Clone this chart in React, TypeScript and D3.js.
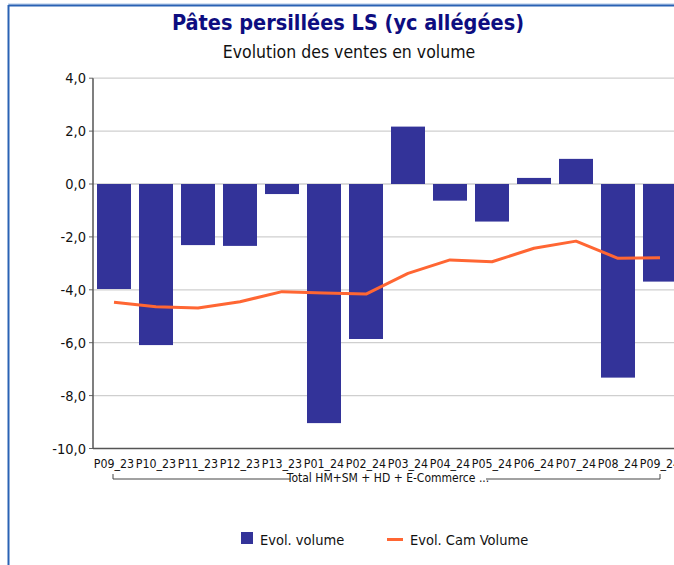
import React from "react";
import * as d3 from "d3";

const categories = ["P09_23","P10_23","P11_23","P12_23","P13_23","P01_24","P02_24","P03_24","P04_24","P05_24","P06_24","P07_24","P08_24","P09_24"];
const evolVolume = [-3.97,-6.09,-2.31,-2.34,-0.38,-9.04,-5.86,2.17,-0.63,-1.42,0.23,0.95,-7.32,-3.69];
const evolCamVolume = [-4.47,-4.64,-4.69,-4.45,-4.07,-4.12,-4.16,-3.38,-2.87,-2.94,-2.43,-2.16,-2.81,-2.79];
const yTicks = [4,2,0,-2,-4,-6,-8,-10];
const groupLabel = "Total HM+SM + HD + E-Commerce ...";

const W = 674, H = 565;
const FONT = "'DejaVu Sans Condensed', 'DejaVu Sans', sans-serif";

export default function App() {
  const x = d3.scaleBand<string>().domain(categories).range([93, 681]).paddingInner(8 / 42).paddingOuter(4 / 42);
  const y = d3.scaleLinear().domain([-10, 4]).range([448.5, 78.2]);
  const fmt = (v: number) => v.toFixed(1).replace(".", ",");
  const line = d3.line<number>().x((_, i) => (x(categories[i]) as number) + x.bandwidth() / 2).y(v => y(v));
  const firstC = (x(categories[0]) as number) + x.bandwidth() / 2;
  const lastC = (x(categories[categories.length - 1]) as number) + x.bandwidth() / 2;
  const bx0 = firstC - 1, bx1 = lastC;
  const by = 479;
  return (
    <svg width={W} height={H} style={{ position: "absolute", left: 0, top: 0, background: "#fff" }} fontFamily={FONT}>
      <rect x={0} y={0} width={W} height={H} fill="#fff" />
      <line x1={8} y1={4} x2={W} y2={4} stroke="#a9c4e8" strokeWidth={1} />
      <line x1={8.5} y1={5.5} x2={W} y2={5.5} stroke="#2a62b4" strokeWidth={2} />
      <line x1={8.5} y1={5} x2={8.5} y2={H} stroke="#2a62b4" strokeWidth={2} />
      <text x={348} y={30} textAnchor="middle" fontSize={21.5} fontWeight="bold" fill="#0d0d80">Pâtes persillées LS (yc allégées)</text>
      <text x={349} y={58} textAnchor="middle" fontSize={17.5} fill="#111">Evolution des ventes en volume</text>
      {yTicks.map(t => (
        <g key={t}>
          {t !== -10 && <line x1={93} x2={W} y1={y(t)} y2={y(t)} stroke="#cfcfcf" strokeWidth={1.3} />}
          <line x1={89} x2={93} y1={y(t)} y2={y(t)} stroke="#666" />
          <text x={86} y={y(t) + 5} textAnchor="end" fontSize={14.5} fill="#111">{fmt(t)}</text>
        </g>
      ))}
      {evolVolume.map((v, i) => (
        <rect key={categories[i]} x={x(categories[i])} width={x.bandwidth()} y={Math.min(y(v), y(0))} height={Math.abs(y(v) - y(0))} fill="#333399" />
      ))}
      <path d={line(evolCamVolume) || ""} fill="none" stroke="#ff6633" strokeWidth={3} strokeLinejoin="round" />
      <line x1={93} x2={93} y1={y(4)} y2={y(-10)} stroke="#555" strokeWidth={1.5} />
      <line x1={93} x2={W} y1={y(-10)} y2={y(-10)} stroke="#555" strokeWidth={1.5} />
      {categories.map(c => (
        <text key={c} x={(x(c) as number) + x.bandwidth() / 2} y={468} textAnchor="middle" fontSize={12.3} fill="#111">{c}</text>
      ))}
      <path d={`M${bx0},${by - 5}V${by}H${290}M${486},${by}H${bx1}V${by - 5}`} fill="none" stroke="#444" strokeWidth={1} />
      <text x={388} y={482} textAnchor="middle" fontSize={12} fill="#111">{groupLabel}</text>
      <rect x={241} y={532} width={12} height={12} fill="#333399" />
      <text x={260} y={545} fontSize={14.5} fill="#111">Evol. volume</text>
      <line x1={387} x2={403} y1={539.5} y2={539.5} stroke="#ff6633" strokeWidth={3} />
      <text x={410} y={545} fontSize={14.5} fill="#111">Evol. Cam Volume</text>
    </svg>
  );
}
